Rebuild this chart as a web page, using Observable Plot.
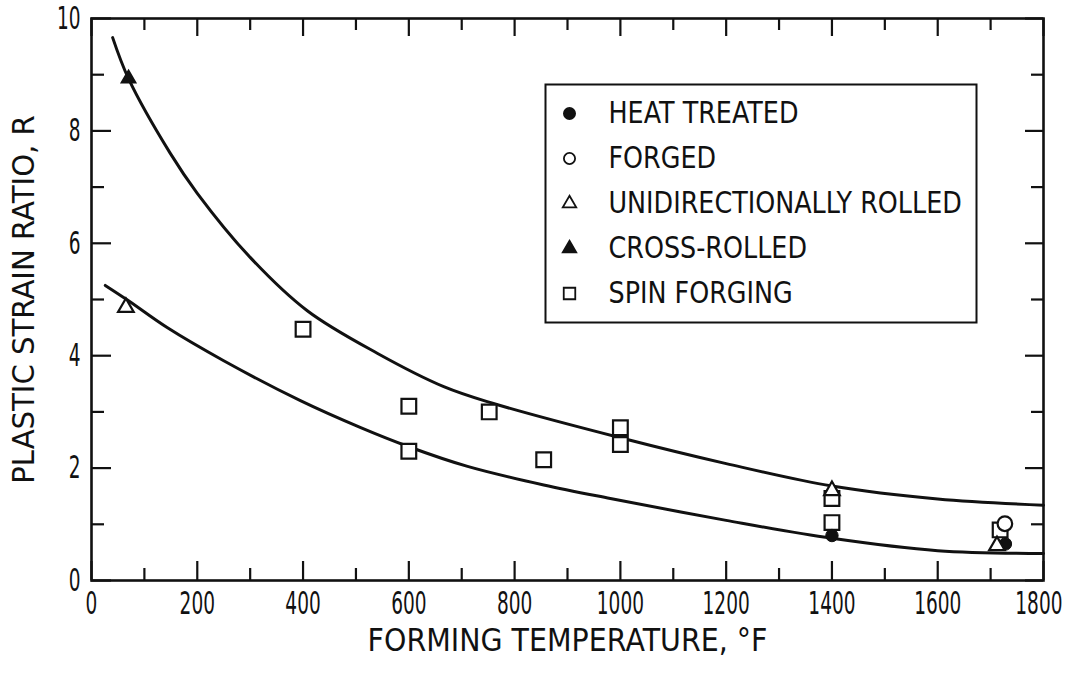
<!DOCTYPE html>
<html>
<head>
<meta charset="utf-8">
<script src="https://cdn.jsdelivr.net/npm/d3@7"></script>
<script src="https://cdn.jsdelivr.net/npm/@observablehq/plot@0.6"></script>
<style>
  html, body { margin: 0; padding: 0; background: #fff; }
</style>
</head>
<body>
<div id="chart"></div>
<script>
// ---------- axis ticks ----------
const xMajorTicks = [0, 200, 400, 600, 800, 1000, 1200, 1400, 1600, 1800];
const xMinorTicks = [100, 300, 500, 700, 900, 1100, 1300, 1500, 1700];
const yMajorTicks = [0, 2, 4, 6, 8, 10];
const yMinorTicks = [1, 3, 5, 7, 9];

const xTitle = "FORMING TEMPERATURE, °F";
const yTitle = "PLASTIC STRAIN RATIO, R";

// ---------- data points (forming temperature °F, R) ----------
const heatTreatedX = [1400, 1728];
const heatTreatedY = [0.80, 0.65];

const forgedX = [1727];
const forgedY = [1.01];

const uniRolledX = [65, 1400, 1712];
const uniRolledY = [4.86, 1.60, 0.62];

const crossRolledX = [70];
const crossRolledY = [8.93];

const spinForgingX = [400, 600, 600, 752, 855, 1000, 1000, 1400, 1400, 1718];
const spinForgingY = [4.47, 3.10, 2.30, 3.00, 2.15, 2.72, 2.42, 1.46, 1.03, 0.90];

// ---------- fitted curves ----------
const upperCurveX = [40, 70, 149, 200, 300, 408, 541, 666, 760, 1000, 1200, 1400, 1600, 1800];
const upperCurveY = [9.66, 8.93, 7.60, 6.89, 5.75, 4.80, 4.04, 3.45, 3.15, 2.54, 2.08, 1.68, 1.45, 1.34];

const lowerCurveX = [26, 68, 143, 250, 395, 509, 600, 711, 855, 981, 1200, 1400, 1600, 1800];
const lowerCurveY = [5.25, 4.99, 4.50, 3.91, 3.20, 2.72, 2.38, 2.03, 1.70, 1.46, 1.07, 0.75, 0.53, 0.48];

// ---------- legend ----------
const legendLabels = ["HEAT TREATED", "FORGED", "UNIDIRECTIONALLY ROLLED", "CROSS-ROLLED", "SPIN FORGING"];
const legendSymbols = ["circle", "circle", "triangle", "triangle", "square"];
const legendFilled = [true, false, false, true, false];

// ---------- helpers ----------
const zip = (xs, ys) => xs.map((x, i) => ({x, y: ys[i]}));
const heatTreated = zip(heatTreatedX, heatTreatedY);
const forged = zip(forgedX, forgedY);
const uniRolled = zip(uniRolledX, uniRolledY);
const crossRolled = zip(crossRolledX, crossRolledY);
const spinForging = zip(spinForgingX, spinForgingY);
const upperCurve = zip(upperCurveX, upperCurveY);
const lowerCurve = zip(lowerCurveX, lowerCurveY);

const FONT = "'DejaVu Sans', 'Liberation Sans', sans-serif";
const W = 1069, H = 673;
const mL = 91, mR = 26, mT = 18, mB = 93;
const innerW = W - mL - mR;
const innerH = H - mT - mB;
const INK = "#111";

const tickStyle = {stroke: INK, strokeWidth: 2.2};
const legendRowY = (i) => 95 + i * 45;   // offset from frame top
const legendSymbolDx = 478;
const legendTextDx = 517;
const legendR = {circle: 5.6, triangle: 5, square: 6.5};

const legendMarks = legendLabels.flatMap((label, i) => [
  Plot.dot([label], {
    frameAnchor: "top-left", dx: legendSymbolDx, dy: legendRowY(i),
    symbol: legendSymbols[i], r: legendR[legendSymbols[i]],
    fill: legendFilled[i] ? INK : "white", stroke: INK, strokeWidth: 1.8
  }),
  Plot.text([label], {
    frameAnchor: "top-left", dx: legendTextDx, dy: legendRowY(i),
    text: d => d, textAnchor: "start", lineAnchor: "middle",
    fontSize: 31, fill: INK
  })
]);

const lastX = xMajorTicks[xMajorTicks.length - 1];

const plot = Plot.plot({
  width: W, height: H,
  marginLeft: mL, marginRight: mR, marginTop: mT, marginBottom: mB,
  x: {domain: [0, 1800]},
  y: {domain: [0, 10]},
  style: {fontFamily: FONT, background: "white", color: INK},
  marks: [
    // inward ticks: bottom, top, left, right
    Plot.tickX(xMajorTicks, {x: d => d, insetTop: innerH - 19, ...tickStyle}),
    Plot.tickX(xMinorTicks, {x: d => d, insetTop: innerH - 12, ...tickStyle}),
    Plot.tickX(xMajorTicks, {x: d => d, insetBottom: innerH - 18, ...tickStyle}),
    Plot.tickX(xMinorTicks, {x: d => d, insetBottom: innerH - 12, ...tickStyle}),
    Plot.tickY(yMajorTicks, {y: d => d, insetRight: innerW - 20, ...tickStyle}),
    Plot.tickY(yMinorTicks, {y: d => d, insetRight: innerW - 13, ...tickStyle}),
    Plot.tickY(yMajorTicks, {y: d => d, insetLeft: innerW - 18, ...tickStyle}),
    Plot.tickY(yMinorTicks, {y: d => d, insetLeft: innerW - 12, ...tickStyle}),

    Plot.axisX({ticks: xMajorTicks.filter(d => d !== lastX), tickSize: 0, tickPadding: 11, fontSize: 32,
                tickFormat: d => String(d), label: null, fill: INK}),
    // last x label sits against the page edge: right-align it
    Plot.text([lastX], {x: d => d, frameAnchor: "bottom", text: d => String(d), textAnchor: "end",
                        lineAnchor: "top", dx: 19, dy: 11, fontSize: 32, fill: INK}),
    Plot.axisY({ticks: yMajorTicks, tickSize: 0, tickPadding: 11, fontSize: 32,
                tickFormat: d => String(d), label: null, fill: INK}),

    // curves
    Plot.line(upperCurve, {x: "x", y: "y", curve: "catmull-rom", stroke: INK, strokeWidth: 3}),
    Plot.line(lowerCurve, {x: "x", y: "y", curve: "catmull-rom", stroke: INK, strokeWidth: 3}),

    // data points
    Plot.dot(spinForging, {x: "x", y: "y", symbol: "square", r: 8.3, fill: "white", stroke: INK, strokeWidth: 2.2}),
    Plot.dot(forged, {x: "x", y: "y", symbol: "circle", r: 7.3, fill: "white", stroke: INK, strokeWidth: 2.2}),
    Plot.dot(heatTreated, {x: "x", y: "y", symbol: "circle", r: 6.2, fill: INK, stroke: INK, strokeWidth: 1}),
    Plot.dot(uniRolled, {x: "x", y: "y", symbol: "triangle", r: 5.8, fill: "white", stroke: INK, strokeWidth: 2.2}),
    Plot.dot(crossRolled, {x: "x", y: "y", symbol: "triangle", r: 5.4, fill: INK, stroke: INK, strokeWidth: 1.5}),

    // plot frame
    Plot.frame({stroke: INK, strokeWidth: 2.6}),

    // legend box + entries
    Plot.frame({insetLeft: 454, insetTop: 66, insetRight: 67, insetBottom: 258, stroke: INK, strokeWidth: 2, fill: "white"}),
    ...legendMarks,

    // axis titles
    Plot.text([xTitle], {frameAnchor: "bottom", dy: 60, text: d => d, fontSize: 32, fill: INK,
                         textAnchor: "middle", lineAnchor: "middle"}),
    Plot.text([yTitle], {frameAnchor: "left", dx: -67, rotate: -90, text: d => d, fontSize: 31, fill: INK,
                         textAnchor: "middle", lineAnchor: "middle"})
  ]
});

document.getElementById("chart").append(plot);

// condense lettering horizontally (narrow drafting-style lettering)
const tickLabelSet = new Set([...xMajorTicks, ...yMajorTicks].map(String));
plot.querySelectorAll("text").forEach(t => {
  const content = t.textContent;
  const isTick = t.closest('g[aria-label$="tick label"]') || tickLabelSet.has(content);
  let f = 0.82;
  if (isTick) f = 0.58;
  else if (content === yTitle) f = 0.94;
  else if (content === xTitle) f = 0.89;
  const len = t.getComputedTextLength();
  if (len > 0) {
    t.setAttribute("textLength", (len * f).toFixed(1));
    t.setAttribute("lengthAdjust", "spacingAndGlyphs");
  }
});
</script>
</body>
</html>
